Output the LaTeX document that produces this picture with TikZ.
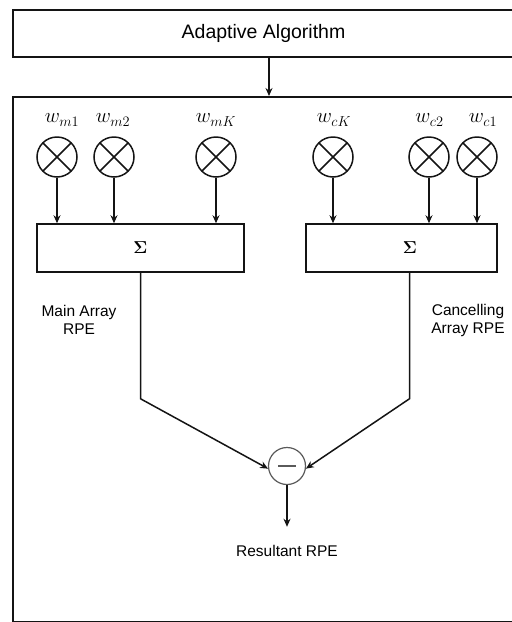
\documentclass[tikz,border=0pt]{standalone}
\usepackage{amsmath,amssymb}
\usepackage[no-math]{fontspec}
\setmainfont{Liberation Sans}
\usepackage{tikz}
\usetikzlibrary{arrows.meta,positioning,calc}
\definecolor{ink}{RGB}{20,20,20}
\definecolor{soft}{RGB}{90,90,90}

\begin{document}
\begin{tikzpicture}[x=1pt,y=-1pt,
    box/.style={draw=ink,line width=1.5pt,inner sep=0pt},
    frame/.style={draw=ink,line width=2pt,inner sep=0pt},
    mult/.style={draw=ink,circle,line width=1.5pt,minimum size=40pt,inner sep=0pt,
        path picture={\draw[ink,line width=1.5pt]
            (path picture bounding box.north west) -- (path picture bounding box.south east)
            (path picture bounding box.north east) -- (path picture bounding box.south west);}},
    wlab/.style={font=\fontsize{20}{22}\selectfont},
    txt/.style={font=\fontsize{15.5}{18}\selectfont,align=center},
    arr/.style={ink,line width=1.5pt,-{Stealth[length=8pt,width=7pt]}}]
    \clip (0,0) rectangle (512,622);
    % adaptive algorithm and outer frame
    \node[frame,minimum width=501pt,minimum height=47pt,font=\fontsize{19.5}{23}\selectfont] (algo) at (263.5,33.5) {Adaptive Algorithm};
    \node[frame,minimum width=501pt,minimum height=525pt] (array) at (263.5,359.5) {};
    \draw[arr] ([xshift=5.5pt]algo.south) -- ([xshift=5.5pt]array.north);

    % main array weights
    \node[mult] (mm1) at (57,157) {};
    \node[mult] (mm2) at (114,157) {};
    \node[mult] (mmK) at (216,157) {};
    \node[wlab] (lm1) at (62,120) {$w_{m1}$};
    \node[wlab] (lm2) at (113,120) {$w_{m2}$};
    \node[wlab] (lmK) at (216,120) {$w_{mK}$};
    \node[box,minimum width=207pt,minimum height=48pt,font=\fontsize{19}{22}\selectfont] (summ) at (140.5,248) {$\boldsymbol{\Sigma}$};
    \draw[arr] (mm1) -- (mm1 |- summ.north);
    \draw[arr] (mm2) -- (mm2 |- summ.north);
    \draw[arr] (mmK) -- (mmK |- summ.north);

    % cancelling array weights
    \node[mult] (mcK) at (333,157) {};
    \node[mult] (mc2) at (429,157) {};
    \node[mult] (mc1) at (477,157) {};
    \node[wlab] (lcK) at (334,120) {$w_{cK}$};
    \node[wlab] (lc2) at (429.5,120) {$w_{c2}$};
    \node[wlab] (lc1) at (483,120) {$w_{c1}$};
    \node[box,minimum width=191pt,minimum height=48pt,font=\fontsize{19}{22}\selectfont] (sumc) at (401.5,248) {\hspace*{17pt}$\boldsymbol{\Sigma}$};
    \draw[arr] (mcK) -- (mcK |- sumc.north);
    \draw[arr] (mc2) -- (mc2 |- sumc.north);
    \draw[arr] (mc1) -- (mc1 |- sumc.north);

    % subtraction
    \node[circle,draw=soft,line width=1.2pt,minimum size=37pt,inner sep=0pt,
        path picture={\draw[soft,line width=1.2pt] ([xshift=-9pt]path picture bounding box.center) -- ([xshift=9pt]path picture bounding box.center);}] (minus) at (287,466) {};
    \node[txt] (mlab) at (79,320) {Main Array\\RPE};
    \node[txt] (clab) at (468,320) {Cancelling\\Array RPE};
    \draw[arr] (summ.south) -- ++(0,126) -- (minus.188);
    \draw[arr] ([xshift=8pt]sumc.south) -- ++(0,126) -- (minus.352);
    \node[txt] (res) at (287,551) {Resultant RPE};
    \draw[arr,shorten >=15pt] (minus) -- (res);
\end{tikzpicture}
\end{document}
